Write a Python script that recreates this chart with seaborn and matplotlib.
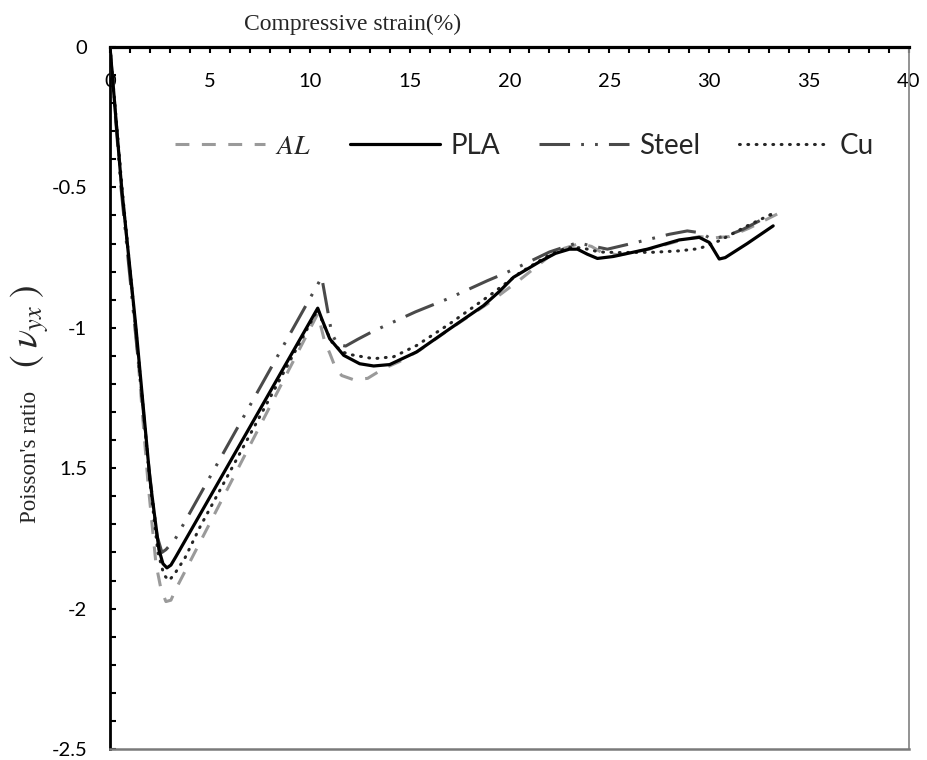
import matplotlib
matplotlib.use("Agg")
import matplotlib.pyplot as plt
from matplotlib.ticker import MultipleLocator, FixedLocator, FixedFormatter
import seaborn as sns

# ---------------- data ----------------
AL_x = [0, 0.6, 1.3, 1.9, 2.3, 2.55, 2.8, 3.05, 3.3, 3.7, 10.4,
        10.75, 11.0, 11.3, 11.6, 12.2, 12.9, 13.7, 14.5, 15.5, 17.0, 19.0,
        20.5, 22.0, 22.6, 23.5, 24.1, 24.7, 25.5, 27.0, 28.5, 29.5, 30.2,
        31.0, 32.0, 33.4]
AL_y = [0, -0.51, -1.02, -1.55, -1.84, -1.93, -1.975, -1.97, -1.93, -1.875, -0.95,
        -1.05, -1.09, -1.145, -1.17, -1.185, -1.18, -1.145, -1.12, -1.08, -1.005, -0.91,
        -0.83, -0.745, -0.72, -0.70, -0.71, -0.735, -0.74, -0.72, -0.69, -0.675, -0.68,
        -0.675, -0.645, -0.595]

PLA_x = [0, 0.58, 1.3, 2.0, 2.45, 2.65, 2.85, 3.05, 3.3, 10.4,
         10.6, 11.0, 11.7, 12.5, 13.2, 14.0, 15.35, 17.0, 18.7, 19.5,
         20.2, 21.5, 22.3, 23.0, 23.4, 23.9, 24.4, 25.2, 26.9, 28.5,
         29.5, 30.0, 30.5, 30.8, 31.9, 33.2]
PLA_y = [0, -0.5, -1.0, -1.54, -1.79, -1.84, -1.855, -1.845, -1.815, -0.93,
         -0.968, -1.039, -1.098, -1.128, -1.136, -1.131, -1.086, -1.004, -0.921, -0.87,
         -0.82, -0.765, -0.735, -0.72, -0.72, -0.738, -0.753, -0.746, -0.72, -0.687,
         -0.678, -0.696, -0.755, -0.75, -0.70, -0.637]

Steel_x = [0, 0.55, 1.25, 1.95, 2.35, 2.6, 2.8, 3.25, 10.6,
           10.75, 11.1, 11.4, 11.8, 12.4, 13.15, 15.3, 16.9, 18.9, 19.7,
           20.4, 22.0, 23.4, 24.1, 24.9, 26.4, 28.0, 28.9, 29.6, 30.1,
           30.9, 31.7, 33.3]
Steel_y = [0, -0.5, -1.0, -1.5, -1.74, -1.80, -1.79, -1.754, -0.82,
           -0.88, -1.02, -1.06, -1.065, -1.041, -1.013, -0.943, -0.897, -0.832, -0.808,
           -0.785, -0.73, -0.697, -0.708, -0.72, -0.695, -0.667, -0.655, -0.662, -0.684,
           -0.672, -0.649, -0.59]

Cu_x = [0, 0.6, 1.3, 2.0, 2.4, 2.7, 2.95, 3.2, 3.75, 4.5, 10.4,
        10.7, 11.1, 11.6, 12.0, 13.2, 14.2, 15.35, 17.0, 19.0, 20.5,
        22.0, 22.9, 23.6, 24.5, 25.5, 27.2, 28.5, 29.5, 30.5, 31.9, 33.3]
Cu_y = [0, -0.5, -1.01, -1.55, -1.80, -1.88, -1.90, -1.88, -1.82, -1.71, -0.935,
        -0.99, -1.05, -1.085, -1.095, -1.11, -1.103, -1.063, -0.986, -0.885, -0.805,
        -0.74, -0.714, -0.715, -0.73, -0.732, -0.731, -0.726, -0.718, -0.69, -0.637, -0.589]

series_names = ["AL", "PLA", "Steel", "Cu"]
legend_labels = [r"$AL$", "PLA", "Steel", "Cu"]

y_tick_values = [0, -0.5, -1, -1.5, -2, -2.5]
y_tick_labels = ["0", "-0.5", "-1", "1.5", "-2", "-2.5"]
x_tick_values = [0, 5, 10, 15, 20, 25, 30, 35, 40]

x_label = "Compressive strain(%)"
y_label_text = "Poisson's ratio"
y_label_symbol = r"$\left(\;\nu_{yx}\;\right)$"

# ---------------- style ----------------
sns.set_style("white")
plt.rcParams["font.family"] = ["Lato", "DejaVu Sans"]
plt.rcParams["mathtext.fontset"] = "stix"
plt.rcParams["lines.scale_dashes"] = False

fig = plt.figure(figsize=(9.27, 7.6), dpi=100)
ax = fig.add_axes([110 / 927, 11 / 760, 799 / 927, 702 / 760])

styles = {
    "AL":    dict(color="#9a9a9a", lw=2.2, ls=(0, (10, 9)), z=2),
    "Steel": dict(color="#4a4a4a", lw=2.2, ls=(0, (22, 8, 2, 8, 2, 8)), z=3),
    "Cu":    dict(color="#262626", lw=2.2, ls=(0, (0.6, 5.4)), z=4),
    "PLA":   dict(color="black", lw=2.3, ls="-", z=5),
}
data = {"AL": (AL_x, AL_y), "PLA": (PLA_x, PLA_y),
        "Steel": (Steel_x, Steel_y), "Cu": (Cu_x, Cu_y)}

handles = {}
for name, lab in zip(series_names, legend_labels):
    st = styles[name]
    xs, ys = data[name]
    sns.lineplot(x=xs, y=ys, ax=ax, color=st["color"], linewidth=st["lw"],
                 linestyle=st["ls"], sort=False, estimator=None, errorbar=None,
                 label=lab, zorder=st["z"], dash_capstyle="round" if name == "Cu" else "butt")
    handles[name] = ax.get_lines()[-1]

ax.set_xlim(0, 40)
ax.set_ylim(-2.5, 0)

# x ticks on top, pointing inward, labels inside the plot area
ax.xaxis.set_major_locator(FixedLocator(x_tick_values))
ax.xaxis.set_minor_locator(MultipleLocator(1))
ax.tick_params(axis="x", which="both", bottom=False, top=True, labelbottom=False,
               labeltop=True, direction="in", length=4.5, width=1.5, color="black")
ax.tick_params(axis="x", which="major", pad=-31, labelsize=14.5, labelcolor="black")

ax.yaxis.set_major_locator(FixedLocator(y_tick_values))
ax.yaxis.set_major_formatter(FixedFormatter(y_tick_labels))
ax.yaxis.set_minor_locator(MultipleLocator(0.1))
ax.tick_params(axis="y", which="both", left=True, right=False, direction="in",
               length=4.5, width=1.5, color="black")
ax.tick_params(axis="y", which="major", pad=16.5, labelsize=14.5, labelcolor="black")

for side, col, lw in [("top", "black", 2.3), ("left", "black", 2.0),
                      ("right", "#8a8a8a", 1.3), ("bottom", "#7a7a7a", 1.8)]:
    ax.spines[side].set_visible(True)
    ax.spines[side].set_color(col)
    ax.spines[side].set_linewidth(lw)
ax.grid(False)

ax.xaxis.set_label_position("top")
ax.set_xlabel(x_label, fontfamily="Liberation Serif", fontsize=17, labelpad=9)
ax.xaxis.label.set_x(0.304)

# y label: plain words plus the larger symbol part above it
ax.set_ylabel(y_label_text, fontfamily="Liberation Serif", fontsize=16.5)
ax.yaxis.label.set_verticalalignment("center")
ax.yaxis.set_label_coords(-0.1, (749 - 457) / 702)
ax.text(-0.1, (749 - 327) / 702, y_label_symbol, transform=ax.transAxes,
        rotation=90, ha="center", va="center", fontsize=27)

order = ["AL", "PLA", "Steel", "Cu"]
ax.legend([handles[n] for n in order], legend_labels, loc="center left",
          bbox_to_anchor=(65 / 799, (749 - 146) / 702), ncol=4, frameon=False,
          handlelength=3.25, handletextpad=0.36, columnspacing=1.4,
          borderpad=0, borderaxespad=0, prop={"family": "Lato", "size": 20})

fig.savefig("out.png", dpi=100)
